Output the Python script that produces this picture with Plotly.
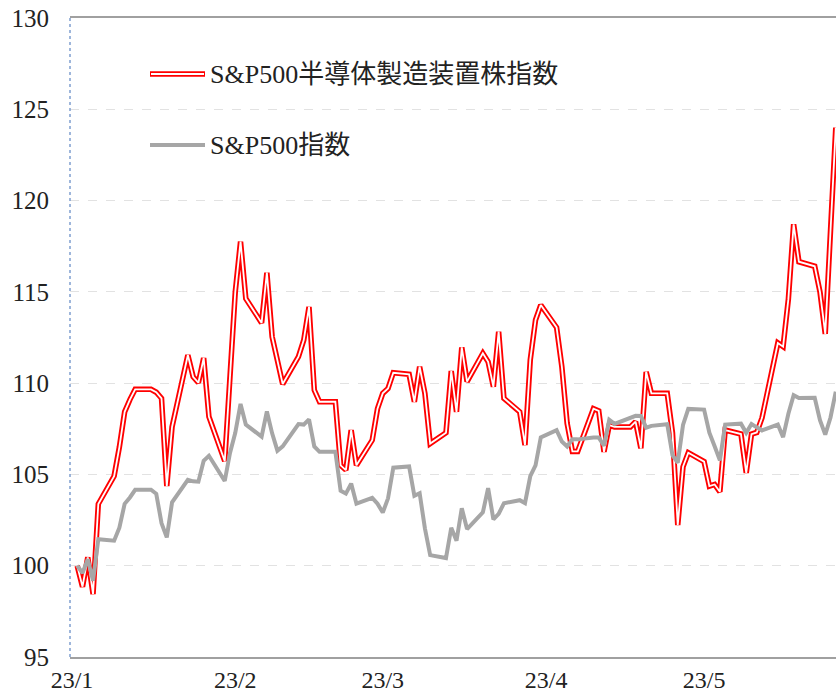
import pandas as pd
import plotly.graph_objects as go

# ---- data (weekdays 2023-01-02 .. 2023-05-26; market holidays carry the prior value) ----
dates = pd.bdate_range("2023-01-02", "2023-05-26")

semi_jan = [100.0, 98.85, 100.46, 98.45, 103.38, 104.91, 106.5, 108.43, 109.1, 109.66, 109.66,
            109.5, 109.17, 104.36, 107.6, 111.54, 110.35, 110.02, 111.38, 108.16, 105.73, 110.3]
semi_feb = [115.0, 117.75, 114.63, 113.3, 116.05, 112.54, 111.3, 109.95, 111.45, 112.36, 114.18,
            109.62, 108.98, 108.98, 105.5, 105.24, 107.43, 105.5, 106.88, 108.6]
semi_mar = [109.44, 109.71, 110.57, 110.48, 108.98, 110.9, 109.44, 106.69, 107.28, 110.66, 108.43,
            111.96, 110.08, 111.63, 111.17, 109.8, 112.82, 109.17, 108.43, 106.61, 111.27, 113.46, 114.28]
semi_apr = [113.05, 110.9, 107.8, 106.26, 106.26, 108.6, 108.48, 106.24, 107.7, 107.6, 107.6,
            107.89, 106.43, 110.62, 109.44, 109.44, 107.28, 102.23, 105.42, 106.19]
semi_may = [105.7, 104.36, 104.45, 104.05, 107.43, 107.21, 105.09, 107.21, 107.3, 108.1, 112.2,
            112.0, 114.6, 118.7, 116.65, 116.4, 115.0, 112.7, 118.0, 124.0]

spx_jan = [100.00, 99.60, 100.35, 99.18, 101.45, 101.37, 102.08, 103.39, 103.74, 104.16, 104.16,
           103.94, 102.33, 101.55, 103.47, 104.70, 104.62, 104.60, 105.75, 106.02, 104.64, 106.18]
spx_feb = [107.28, 108.86, 107.73, 107.07, 108.45, 107.25, 106.30, 106.54, 107.76, 107.73, 108.02,
           106.53, 106.24, 106.24, 104.11, 103.95, 104.50, 103.40, 103.72, 103.40]
spx_mar = [102.91, 103.69, 105.37, 105.44, 103.83, 103.97, 102.05, 100.58, 100.42, 102.08, 101.37,
           103.15, 102.01, 102.92, 104.25, 102.54, 102.84, 103.42, 103.59, 103.43, 104.90, 105.50, 107.03]
spx_apr = [107.42, 106.80, 106.53, 106.92, 106.92, 107.02, 107.02, 106.57, 107.99, 107.77, 108.12,
           108.21, 108.20, 107.56, 107.66, 107.75, 106.05, 105.64, 107.71, 108.59]
spx_may = [108.55, 107.29, 106.54, 105.77, 107.73, 107.78, 107.28, 107.76, 107.58, 107.41, 107.73,
           107.04, 108.32, 109.34, 109.18, 109.20, 107.97, 107.18, 108.12, 109.53]

semi = semi_jan + semi_feb + semi_mar + semi_apr + semi_may
spx = spx_jan + spx_feb + spx_mar + spx_apr + spx_may

tick_dates = ["2023-01-01", "2023-02-01", "2023-03-01", "2023-04-01", "2023-05-01"]
tick_labels = ["23/1", "23/2", "23/3", "23/4", "23/5"]
y_ticks = [95, 100, 105, 110, 115, 120, 125, 130]

name_semi = "S&P500半導体製造装置株指数"
name_spx = "S&P500指数"

FONT = "Liberation Serif, 'Noto Sans CJK JP', serif"
RED = "#ff0000"
GRAY = "#a6a6a6"

fig = go.Figure()
# double-line red series: red outer stroke + white inner stroke
fig.add_trace(go.Scatter(x=dates, y=semi, mode="lines", name=name_semi,
                         line=dict(color=RED, width=5.5), showlegend=False, hoverinfo="skip"))
fig.add_trace(go.Scatter(x=dates, y=semi, mode="lines", name=name_semi,
                         line=dict(color="white", width=1.8), showlegend=False))
fig.add_trace(go.Scatter(x=dates, y=spx, mode="lines", name=name_spx,
                         line=dict(color=GRAY, width=4), showlegend=False))

W, H = 836, 697
L, R, T, B = 70, 0, 18, 40
pw, ph = W - L - R, H - T - B


def px(xp):  # window pixel x -> paper
    return (xp - L) / pw


def py(yp):  # window pixel y -> paper
    return (H - B - yp) / ph


shapes = [
    # left axis: thin blue dotted line
    dict(type="line", xref="paper", yref="paper", x0=0, x1=0, y0=0, y1=1,
         line=dict(color="#7f9fd0", width=1.5, dash="dot")),
    # legend symbols
    dict(type="line", xref="paper", yref="paper", x0=px(150), x1=px(205), y0=py(74), y1=py(74),
         line=dict(color=RED, width=5.5)),
    dict(type="line", xref="paper", yref="paper", x0=px(151), x1=px(204), y0=py(74), y1=py(74),
         line=dict(color="white", width=1.8)),
    dict(type="line", xref="paper", yref="paper", x0=px(150), x1=px(205), y0=py(145), y1=py(145),
         line=dict(color=GRAY, width=4)),
]

annotations = [
    dict(xref="paper", yref="paper", x=px(208), y=py(75), xanchor="left", yanchor="middle",
         text=name_semi, showarrow=False, font=dict(family=FONT, size=26, color="#222222")),
    dict(xref="paper", yref="paper", x=px(208), y=py(145), xanchor="left", yanchor="middle",
         text=name_spx, showarrow=False, font=dict(family=FONT, size=26, color="#222222")),
]

fig.update_layout(
    width=W, height=H,
    margin=dict(l=L, r=R, t=T, b=B, autoexpand=False),
    paper_bgcolor="white", plot_bgcolor="white",
    font=dict(family=FONT, size=24, color="#222222"),
    shapes=shapes, annotations=annotations,
    showlegend=False,
)
fig.update_xaxes(
    type="date", automargin=False,
    range=["2022-12-31 15:00", "2023-05-26 01:00"],
    tickvals=tick_dates, ticktext=tick_labels,
    showgrid=False, zeroline=False,
    showline=True, linecolor="#a0a0a0", linewidth=2, mirror=True,
    ticks="", ticklabelstandoff=0, ticklabeloverflow="allow",
    tickfont=dict(family=FONT, size=24, color="#222222"),
)
fig.update_yaxes(
    automargin=False,
    range=[95, 130], tickvals=y_ticks,
    showgrid=True, gridcolor="#e2e2e2", gridwidth=1, griddash="dash",
    zeroline=False, showline=False,
    ticks="", ticklabelstandoff=20, ticklabeloverflow="allow",
    tickfont=dict(family=FONT, size=25, color="#222222"),
)

fig.write_html(
    "out.html",
    config={"displayModeBar": False},
    post_script="document.body.style.margin='0px';document.body.style.overflow='hidden';",
)
